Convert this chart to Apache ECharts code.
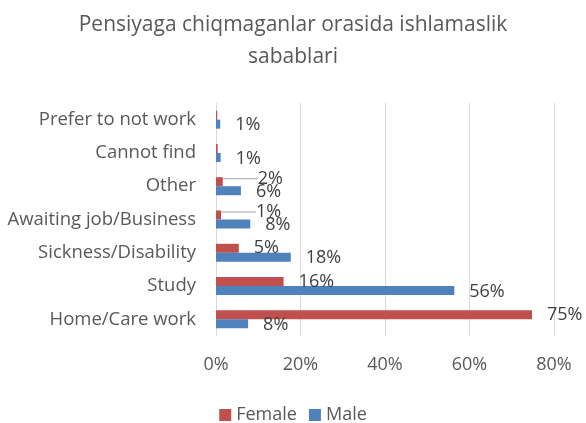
<!DOCTYPE html>
<html>
<head>
<meta charset="utf-8">
<script src="https://cdn.jsdelivr.net/npm/echarts@6/dist/echarts.min.js"></script>
<style>
  html, body { margin: 0; padding: 0; background: #fff; }
  #chart { width: 586px; height: 423px; }
</style>
</head>
<body>
<div id="chart"></div>
<script>
const categories = ['Home/Care work', 'Study', 'Sickness/Disability', 'Awaiting job/Business', 'Other', 'Cannot find', 'Prefer to not work']
const femaleValues = [74.8, 16, 5.4, 1.2, 1.6, 0.4, 0.3]
const maleValues = [7.6, 56.4, 17.7, 8.1, 5.9, 1.1, 1.0]
const tickLabels = ['0%', '20%', '40%', '60%', '80%']
// female labels pulled out with a leader line (Other, Awaiting job/Business)
const femaleLeaderIdx = [3, 4]

const COLOR_FEMALE = '#c0504d'
const COLOR_MALE = '#4f81bd'
const FONT = '"Open Sans", "Noto Sans", sans-serif'

const chart = echarts.init(document.getElementById('chart'))

function labelFormatter(p) {
  if (p.value < 1) return ''
  return Math.round(p.value) + '%'
}

const femaleData = femaleValues.map((v, i) => ({
  value: v,
  labelLine: { show: femaleLeaderIdx.includes(i) }
}))

const labelStyle = {
  show: true,
  position: 'right',
  distance: 15,
  fontFamily: FONT,
  fontSize: 18,
  color: '#404040',
  formatter: labelFormatter
}

chart.setOption({
  animation: false,
  title: {
    text: 'Pensiyaga chiqmaganlar orasida ishlamaslik\nsabablari',
    left: 'center',
    top: 4,
    textStyle: {
      fontFamily: FONT,
      fontWeight: 'normal',
      fontSize: 21,
      color: '#595959',
      lineHeight: 32
    }
  },
  legend: {
    top: 401,
    left: 'center',
    itemWidth: 12,
    itemHeight: 12,
    itemGap: 12,
    icon: 'rect',
    textStyle: { fontFamily: FONT, fontSize: 18, color: '#595959' },
    data: ['Female', 'Male']
  },
  grid: {
    left: 216,
    right: 32,
    top: 103,
    bottom: 87
  },
  xAxis: {
    type: 'value',
    min: 0,
    max: 80,
    interval: 20,
    axisLine: { show: false },
    axisTick: { show: false },
    splitLine: { lineStyle: { color: '#d9d9d9', width: 1 } },
    axisLabel: {
      margin: 20,
      fontFamily: FONT,
      fontSize: 18,
      color: '#595959',
      formatter: (v) => tickLabels[v / 20]
    }
  },
  yAxis: {
    type: 'category',
    data: categories,
    axisLine: { show: false },
    axisTick: { show: false },
    axisLabel: {
      margin: 20,
      fontFamily: FONT,
      fontSize: 18.5,
      color: '#595959'
    }
  },
  series: [
    {
      name: 'Female',
      type: 'bar',
      barWidth: 9,
      barGap: '0%',
      itemStyle: { color: COLOR_FEMALE },
      data: femaleData,
      label: Object.assign({}, labelStyle, { offset: [0, -4] }),
      labelLine: { lineStyle: { color: '#a6a6a6', width: 1 } },
      labelLayout: (params) => {
        if (femaleLeaderIdx.includes(params.dataIndex)) {
          return { dx: 20, dy: -3 }
        }
        return {}
      }
    },
    {
      name: 'Male',
      type: 'bar',
      barWidth: 9,
      barGap: '0%',
      itemStyle: { color: COLOR_MALE },
      data: maleValues,
      label: Object.assign({}, labelStyle, { offset: [0, 1] })
    }
  ]
})
</script>
</body>
</html>
